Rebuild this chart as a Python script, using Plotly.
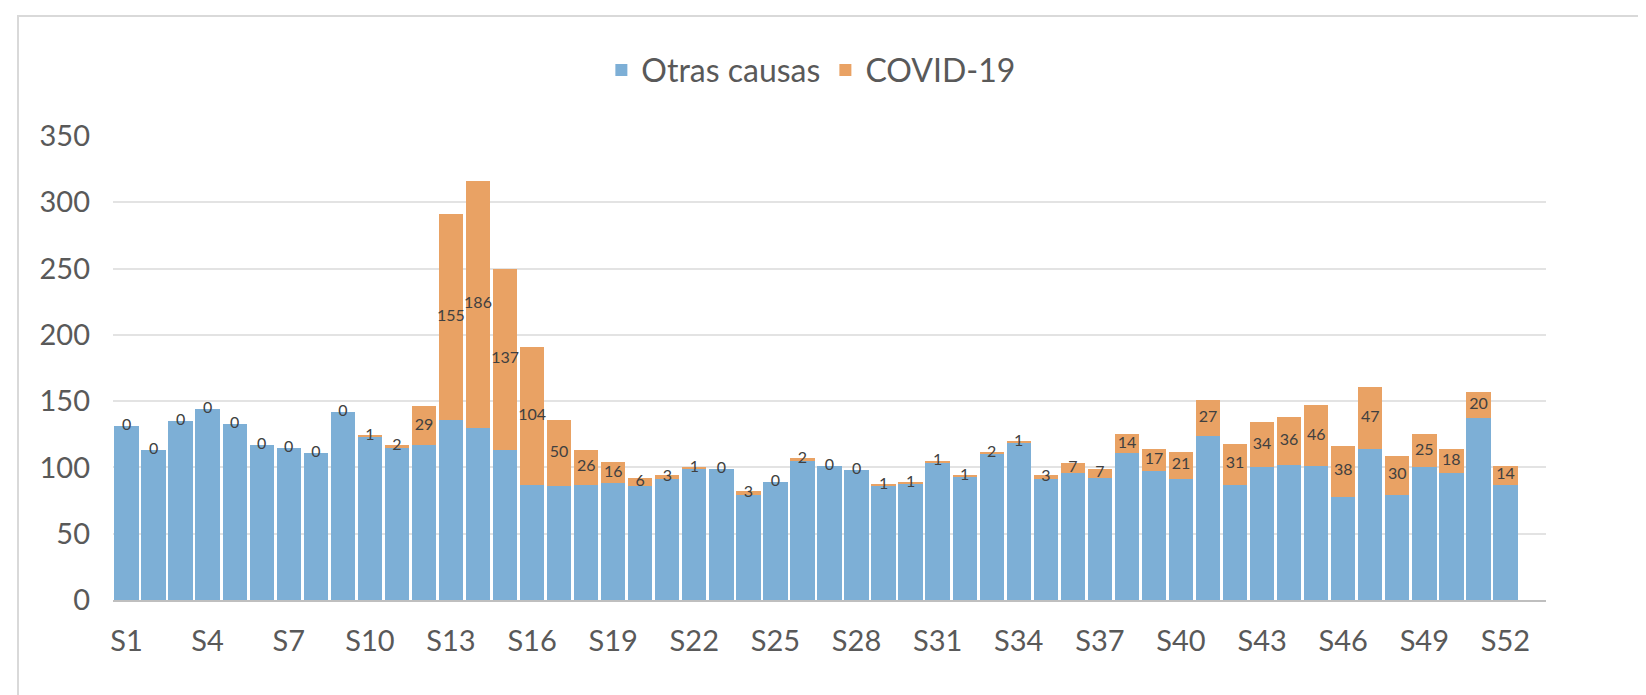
import plotly.graph_objects as go

semanas = [f"S{i}" for i in range(1, 53)]
otras_causas = [131, 113, 135, 144, 133, 117, 115, 111, 142, 123,
                115, 117, 136, 130, 113, 87, 86, 87, 88, 86,
                91, 99, 99, 79, 89, 105, 101, 98, 86, 88,
                104, 93, 110, 119, 91, 96, 92, 111, 97, 91,
                124, 87, 100, 102, 101, 78, 114, 79, 100, 96,
                137, 87]
covid = [0, 0, 0, 0, 0, 0, 0, 0, 0, 1,
         2, 29, 155, 186, 137, 104, 50, 26, 16, 6,
         3, 1, 0, 3, 0, 2, 0, 0, 1, 1,
         1, 1, 2, 1, 3, 7, 7, 14, 17, 21,
         27, 31, 34, 36, 46, 38, 47, 30, 25, 18,
         20, 14]
y_ticks = [0, 50, 100, 150, 200, 250, 300, 350]
x_ticks = semanas[::3]

BLUE = "#7DAFD6"
ORANGE = "#E9A264"
FONT = "Lato"

fig = go.Figure()
fig.add_trace(go.Bar(x=semanas, y=otras_causas, name="Otras causas",
                     marker=dict(color=BLUE, line=dict(width=0))))
fig.add_trace(go.Bar(x=semanas, y=covid, name="COVID-19",
                     marker=dict(color=ORANGE, line=dict(width=0))))
label_y = [o + c / 2 for o, c in zip(otras_causas, covid)]
fig.add_trace(go.Scatter(x=semanas, y=label_y, mode="text",
                         text=[str(c) for c in covid],
                         textposition="middle center",
                         textfont=dict(family=FONT, size=16, color="#404040"),
                         showlegend=False, hoverinfo="skip"))

fig.update_layout(
    barmode="stack",
    bargap=0.1,
    width=1646, height=695,
    paper_bgcolor="white", plot_bgcolor="white",
    margin=dict(l=105, r=108, t=128, b=103),
    font=dict(family=FONT, color="#595959"),
    legend=dict(orientation="h", x=0.487, xanchor="center", y=1.142, yanchor="middle",
                font=dict(family=FONT, size=32, color="#595959"),
                itemwidth=30, traceorder="normal", bgcolor="rgba(0,0,0,0)"),
    showlegend=True,
)
fig.update_xaxes(
    range=[-0.5, 52.5],
    tickmode="array", tickvals=x_ticks, ticktext=x_ticks,
    tickfont=dict(family=FONT, size=29, color="#595959"),
    showgrid=False, showline=True, linecolor="#BFBFBF", linewidth=1.5,
    ticks="", ticklabelstandoff=14,
)
fig.update_yaxes(
    range=[0, 350],
    tickmode="array", tickvals=y_ticks,
    tickfont=dict(family=FONT, size=29, color="#595959"),
    showgrid=True, gridcolor="#E3E3E3", gridwidth=1.5,
    zeroline=False, showline=False, ticks="", ticklabelstandoff=22,
)
fig.add_shape(type="rect", xref="paper", yref="paper",
              x0=-95/1433, x1=1.2, y0=-0.5, y1=1 + 120/464,
              line=dict(color="#D9D9D9", width=2), fillcolor="rgba(0,0,0,0)",
              layer="below")

fig.write_html("out.html")
